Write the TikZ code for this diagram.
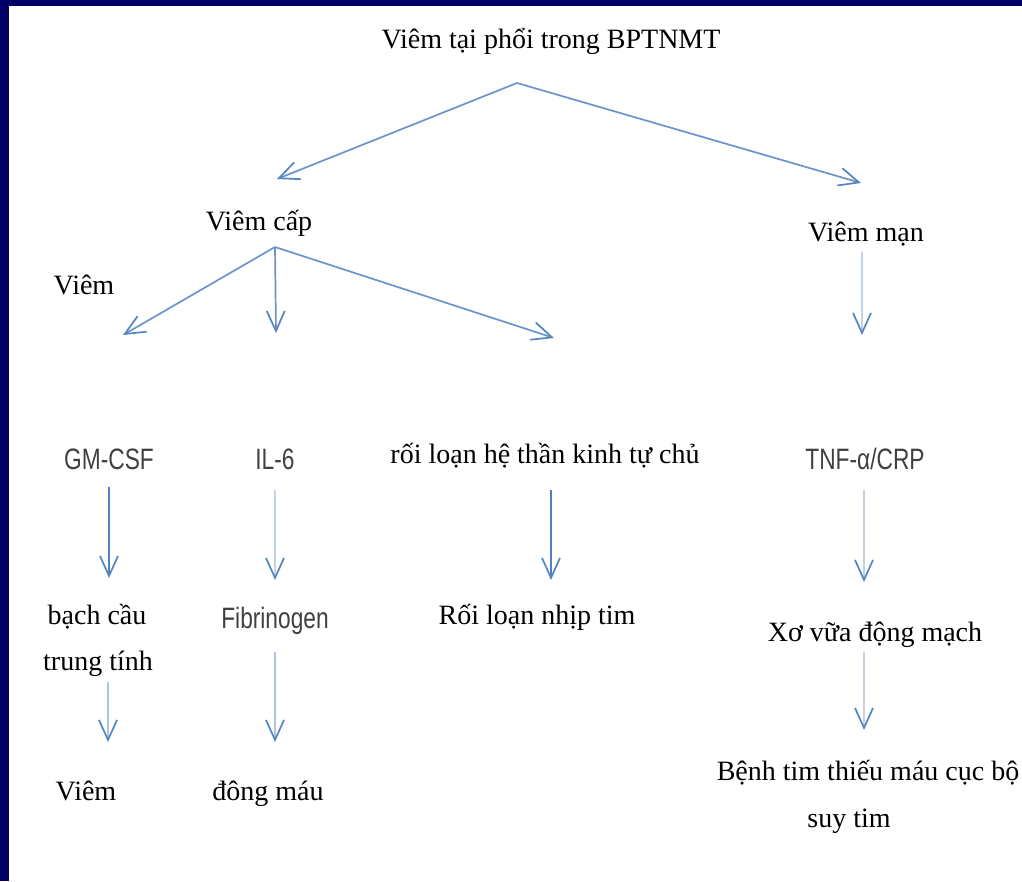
\documentclass[tikz,border=0pt]{standalone}
\usepackage{fontspec}
\setmainfont{Liberation Serif}
\newfontfamily\labelsans[FakeStretch=0.77]{Liberation Sans}
\usetikzlibrary{arrows.meta,calc}

\definecolor{framenavy}{HTML}{000066}
\definecolor{headblue}{HTML}{5585C0}
\definecolor{lineblue}{HTML}{6B94CC}
\definecolor{darkblue}{HTML}{4F81BD}
\definecolor{paleblue}{HTML}{C3D2E9}
\definecolor{softblue}{HTML}{B0C4E1}
\definecolor{sanstext}{HTML}{404040}

\tikzset{
  term/.style={anchor=base, inner sep=0pt, font=\fontsize{28}{33}\selectfont},
  marker/.style={anchor=base, inner sep=0pt, text=sanstext,
    font=\labelsans\fontsize{29.5}{34}\selectfont},
  arr/.style={line width=1.7pt, lineblue,
    -{Straight Barb[length=20pt,width=18pt,line width=1.7pt,color=headblue]}},
  arrdark/.style={arr, darkblue},
  arrpale/.style={arr, paleblue},
  arrsoft/.style={arr, softblue},
}

\begin{document}
\begin{tikzpicture}[x=1pt,y=-1pt]
  \useasboundingbox (0,0) rectangle (1022,881);
  \fill[white] (0,0) rectangle (1022,881);
  % navy frame along the top and left edges
  \fill[framenavy] (0,0) rectangle (1022,6);
  \fill[framenavy] (0,0) rectangle (9,881);

  % root
  \node[term] (title) at (551,48) {Viêm tại phổi trong BPTNMT};

  % first level
  \node[term] (vcap) at (259,230) {Viêm cấp};
  \node[term] (vman) at (866,241) {Viêm mạn};
  \node[term] (viem1) at (84,294) {Viêm};

  % second level
  \node[marker] (gm)  at (109,469) {GM-CSF};
  \node[marker] (il6) at (275,469) {IL-6};
  \node[term]   (rl)  at (545,463) {rối loạn hệ thần kinh tự chủ};
  \node[marker] (tnf) at (865,469) {TNF-α/CRP};

  % third level
  \node[term]   (bc1) at (97,624) {bạch cầu};
  \node[term]   (bc2) at (98,670) {trung tính};
  \node[marker] (fib) at (275,628) {Fibrinogen};
  \node[term]   (rn)  at (537,624) {Rối loạn nhịp tim};
  \node[term]   (xv)  at (875,641) {Xơ vữa động mạch};

  % fourth level
  \node[term] (viem2) at (86,800) {Viêm};
  \node[term] (dm)    at (268,800) {đông máu};
  \node[term] (bt)    at (868,780) {Bệnh tim thiếu máu cục bộ};
  \node[term] (st)    at (849,827) {suy tim};

  % branching points
  \coordinate (fork1) at ($(title.base)+(-34,35)$);
  \coordinate (fork2) at ($(vcap.base)+(16,17)$);

  % connectors
  \draw[arr] (fork1) -- ($(vcap.base)+(18,-51)$);
  \draw[arr] (fork1) -- ($(vman.base)+(-5,-58)$);

  \draw[arr] (fork2) -- ($(gm.base)+(14,-134)$);
  \draw[arr] (fork2) -- ($(il6.base)+(1,-136)$);
  \draw[arr] (fork2) -- ($(rl.base)+(9,-125)$);

  \draw[arrpale] ($(vman.base)+(-4,11)$) -- ($(tnf.base)+(-3,-134)$);

  \draw[arrdark] ($(gm.base)+(0,18)$) -- ($(gm.base |- bc1.base)+(0,-46)$);
  \draw[arrpale] ($(il6.base)+(0,21)$) -- ($(fib.base)+(0,-48)$);
  \draw[arrdark, line width=1.2pt] ($(rl.base)+(6,27)$) -- ($(rn.base)+(14,-44)$);
  \draw[arrpale] ($(tnf.base)+(-1,21)$) -- ($(xv.base)+(-11,-59)$);

  \draw[arrsoft] ($(bc2.base)+(10,12)$) -- ($(viem2.base)+(22,-58)$);
  \draw[arrsoft] ($(fib.base)+(0,24)$) -- ($(dm.base)+(7,-58)$);
  \draw[arrpale] ($(xv.base)+(-11,11)$) -- ($(bt.base)+(-4,-50)$);
\end{tikzpicture}
\end{document}
